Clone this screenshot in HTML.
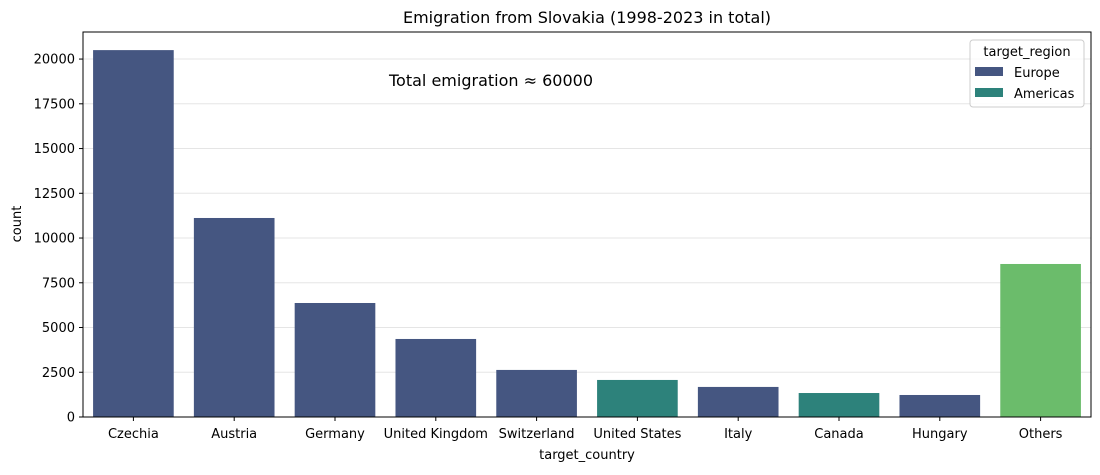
<!DOCTYPE html>
<html><head><meta charset="utf-8"><style>
body{margin:0;background:#fff;}
svg{font-family:"DejaVu Sans","Liberation Sans",sans-serif;}
</style></head><body>
<svg id="chart" width="1100" height="470" xmlns="http://www.w3.org/2000/svg">
<rect width="1100" height="470" fill="#fff"/>
<text x="587" y="23" font-size="16" text-anchor="middle" fill="#000">Emigration from Slovakia (1998-2023 in total)</text>
<g id="grid"></g>
<g id="bars"></g>
<g id="axes"></g>
<rect x="83" y="32" width="1008" height="385" fill="none" stroke="#000" stroke-width="1"/>
<text x="491" y="86" font-size="16" text-anchor="middle" fill="#000">Total emigration ≈ 60000</text>
<text x="587" y="459" font-size="13" text-anchor="middle">target_country</text>
<text x="21" y="224" font-size="13" text-anchor="middle" transform="rotate(-90 21 224)">count</text>
<g>
<rect x="970" y="40" width="114" height="67" rx="3" fill="#fff" fill-opacity="0.8" stroke="#ccc"/>
<text x="1027" y="56" font-size="13" text-anchor="middle">target_region</text>
<rect x="975" y="67" width="28" height="9" fill="#455681"/>
<text x="1014" y="77" font-size="13">Europe</text>
<rect x="975" y="88" width="28" height="9" fill="#2d827b"/>
<text x="1014" y="98" font-size="13">Americas</text>
</g>
</svg>
<script>
const categories=["Czechia","Austria","Germany","United Kingdom","Switzerland","United States","Italy","Canada","Hungary","Others"];
const counts=[20500,11120,6370,4360,2630,2070,1680,1340,1230,8550];
const regions=["Europe","Europe","Europe","Europe","Europe","Americas","Europe","Americas","Europe","Other"];
const yTicks=[0,2500,5000,7500,10000,12500,15000,17500,20000];
const colors={Europe:"#455681",Americas:"#2d827b",Other:"#6bbc6b"};
const NS="http://www.w3.org/2000/svg";
const x0=83,x1=1091,yBase=417,yTop=32;
const yMax=21512;
function y(v){return yBase-(v/yMax)*(yBase-yTop);}
const band=(x1-x0)/categories.length;
function xc(i){return x0+band*(i+0.5);}
const grid=document.getElementById('grid'),bars=document.getElementById('bars'),axes=document.getElementById('axes');
function mk(tag,attrs,parent){const e=document.createElementNS(NS,tag);for(const k in attrs)e.setAttribute(k,attrs[k]);parent.appendChild(e);return e;}
yTicks.forEach(t=>{
 const g=mk('line',{x1:x0,x2:x1,y1:y(t),y2:y(t),stroke:'#e5e5e5','stroke-width':1},grid);
 
 
 const tk=mk('line',{x1:x0-4,x2:x0,y1:y(t),y2:y(t),stroke:'#000'},axes);
 
 
 const lb=mk('text',{x:x0-8,y:y(t)+4.5,'font-size':13,'text-anchor':'end'},axes);
 lb.textContent=t;
 
 
});
categories.forEach((c,i)=>{
 const w=band*0.8;
 const r=mk('rect',{x:xc(i)-w/2,y:y(counts[i]),width:w,height:yBase-y(counts[i]),fill:colors[regions[i]]},bars);
 
 
 const tk=mk('line',{x1:xc(i),x2:xc(i),y1:yBase,y2:yBase+4,stroke:'#000'},axes);
 
 
 const lb=mk('text',{x:xc(i),y:yBase+21,'font-size':13,'text-anchor':'middle'},axes);
 lb.textContent=c;
 
 
});
</script>
</body></html>
